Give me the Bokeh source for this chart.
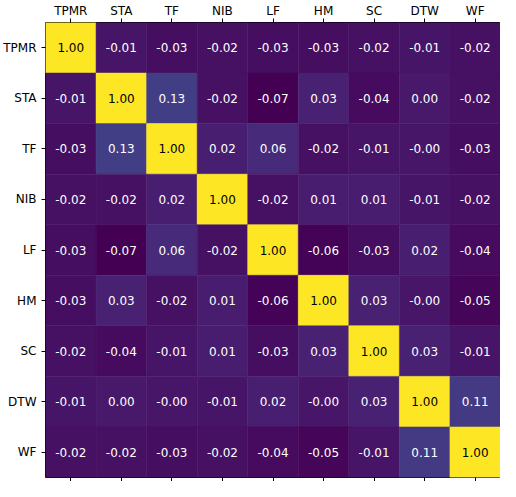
from bokeh.plotting import figure
from bokeh.models import ColumnDataSource, LinearColorMapper, CategoricalAxis
from bokeh.palettes import Viridis256
from bokeh.embed import file_html
from bokeh.resources import INLINE
from bokeh.core.properties import value

labels = ["TPMR", "STA", "TF", "NIB", "LF", "HM", "SC", "DTW", "WF"]

row_tpmr = [1.00, -0.01, -0.03, -0.02, -0.03, -0.03, -0.02, -0.01, -0.02]
row_sta = [-0.01, 1.00, 0.13, -0.02, -0.07, 0.03, -0.04, 0.004, -0.02]
row_tf = [-0.03, 0.13, 1.00, 0.02, 0.06, -0.02, -0.01, -0.004, -0.03]
row_nib = [-0.02, -0.02, 0.02, 1.00, -0.02, 0.01, 0.01, -0.01, -0.02]
row_lf = [-0.03, -0.07, 0.06, -0.02, 1.00, -0.06, -0.03, 0.02, -0.04]
row_hm = [-0.03, 0.03, -0.02, 0.01, -0.06, 1.00, 0.03, -0.004, -0.05]
row_sc = [-0.02, -0.04, -0.01, 0.01, -0.03, 0.03, 1.00, 0.03, -0.01]
row_dtw = [-0.01, 0.004, -0.004, -0.01, 0.02, -0.004, 0.03, 1.00, 0.11]
row_wf = [-0.02, -0.02, -0.03, -0.02, -0.04, -0.05, -0.01, 0.11, 1.00]

rows = [row_tpmr, row_sta, row_tf, row_nib, row_lf, row_hm, row_sc, row_dtw, row_wf]

xs, ys, vals, txt, tcol = [], [], [], [], []
for rl, row in zip(labels, rows):
    for cl, v in zip(labels, row):
        xs.append(cl)
        ys.append(rl)
        vals.append(v)
        txt.append("{:.2f}".format(v))
        tcol.append("black" if v > 0.5 else "white")

flat = [v for r in rows for v in r]
mapper = LinearColorMapper(palette=Viridis256, low=min(flat), high=max(flat))

src = ColumnDataSource(dict(x=xs, y=ys, v=vals, t=txt, tc=tcol))

p = figure(x_range=labels, y_range=list(reversed(labels)),
           x_axis_location="above", width=500, height=481,
           min_border_left=41, min_border_top=16, min_border_right=0,
           min_border_bottom=4, toolbar_location=None, output_backend="svg")

p.rect(x="x", y="y", width=1, height=1, source=src,
       fill_color={"field": "v", "transform": mapper},
       line_color={"field": "v", "transform": mapper}, line_width=0.5)
p.text(x="x", y="y", text="t", source=src, text_color="tc",
       text_align="center", text_baseline="middle",
       text_font=value("DejaVu Sans"), text_font_size="12px")

bottom = CategoricalAxis()
p.add_layout(bottom, "below")

for ax in p.axis:
    ax.axis_line_color = None
    ax.major_tick_line_color = "black"
    ax.major_tick_in = 0
    ax.major_tick_out = 4
    ax.major_label_text_font = "DejaVu Sans"
    ax.major_label_text_font_size = "12px"
    ax.major_label_text_color = "black"
    ax.major_label_standoff = 5

bottom.major_label_text_color = None
bottom.major_label_standoff = 0
p.xaxis[0].major_label_standoff = 1

p.grid.visible = False
p.outline_line_color = "black"
p.outline_line_width = 1

open("out.html", "w").write(file_html(p, INLINE))
